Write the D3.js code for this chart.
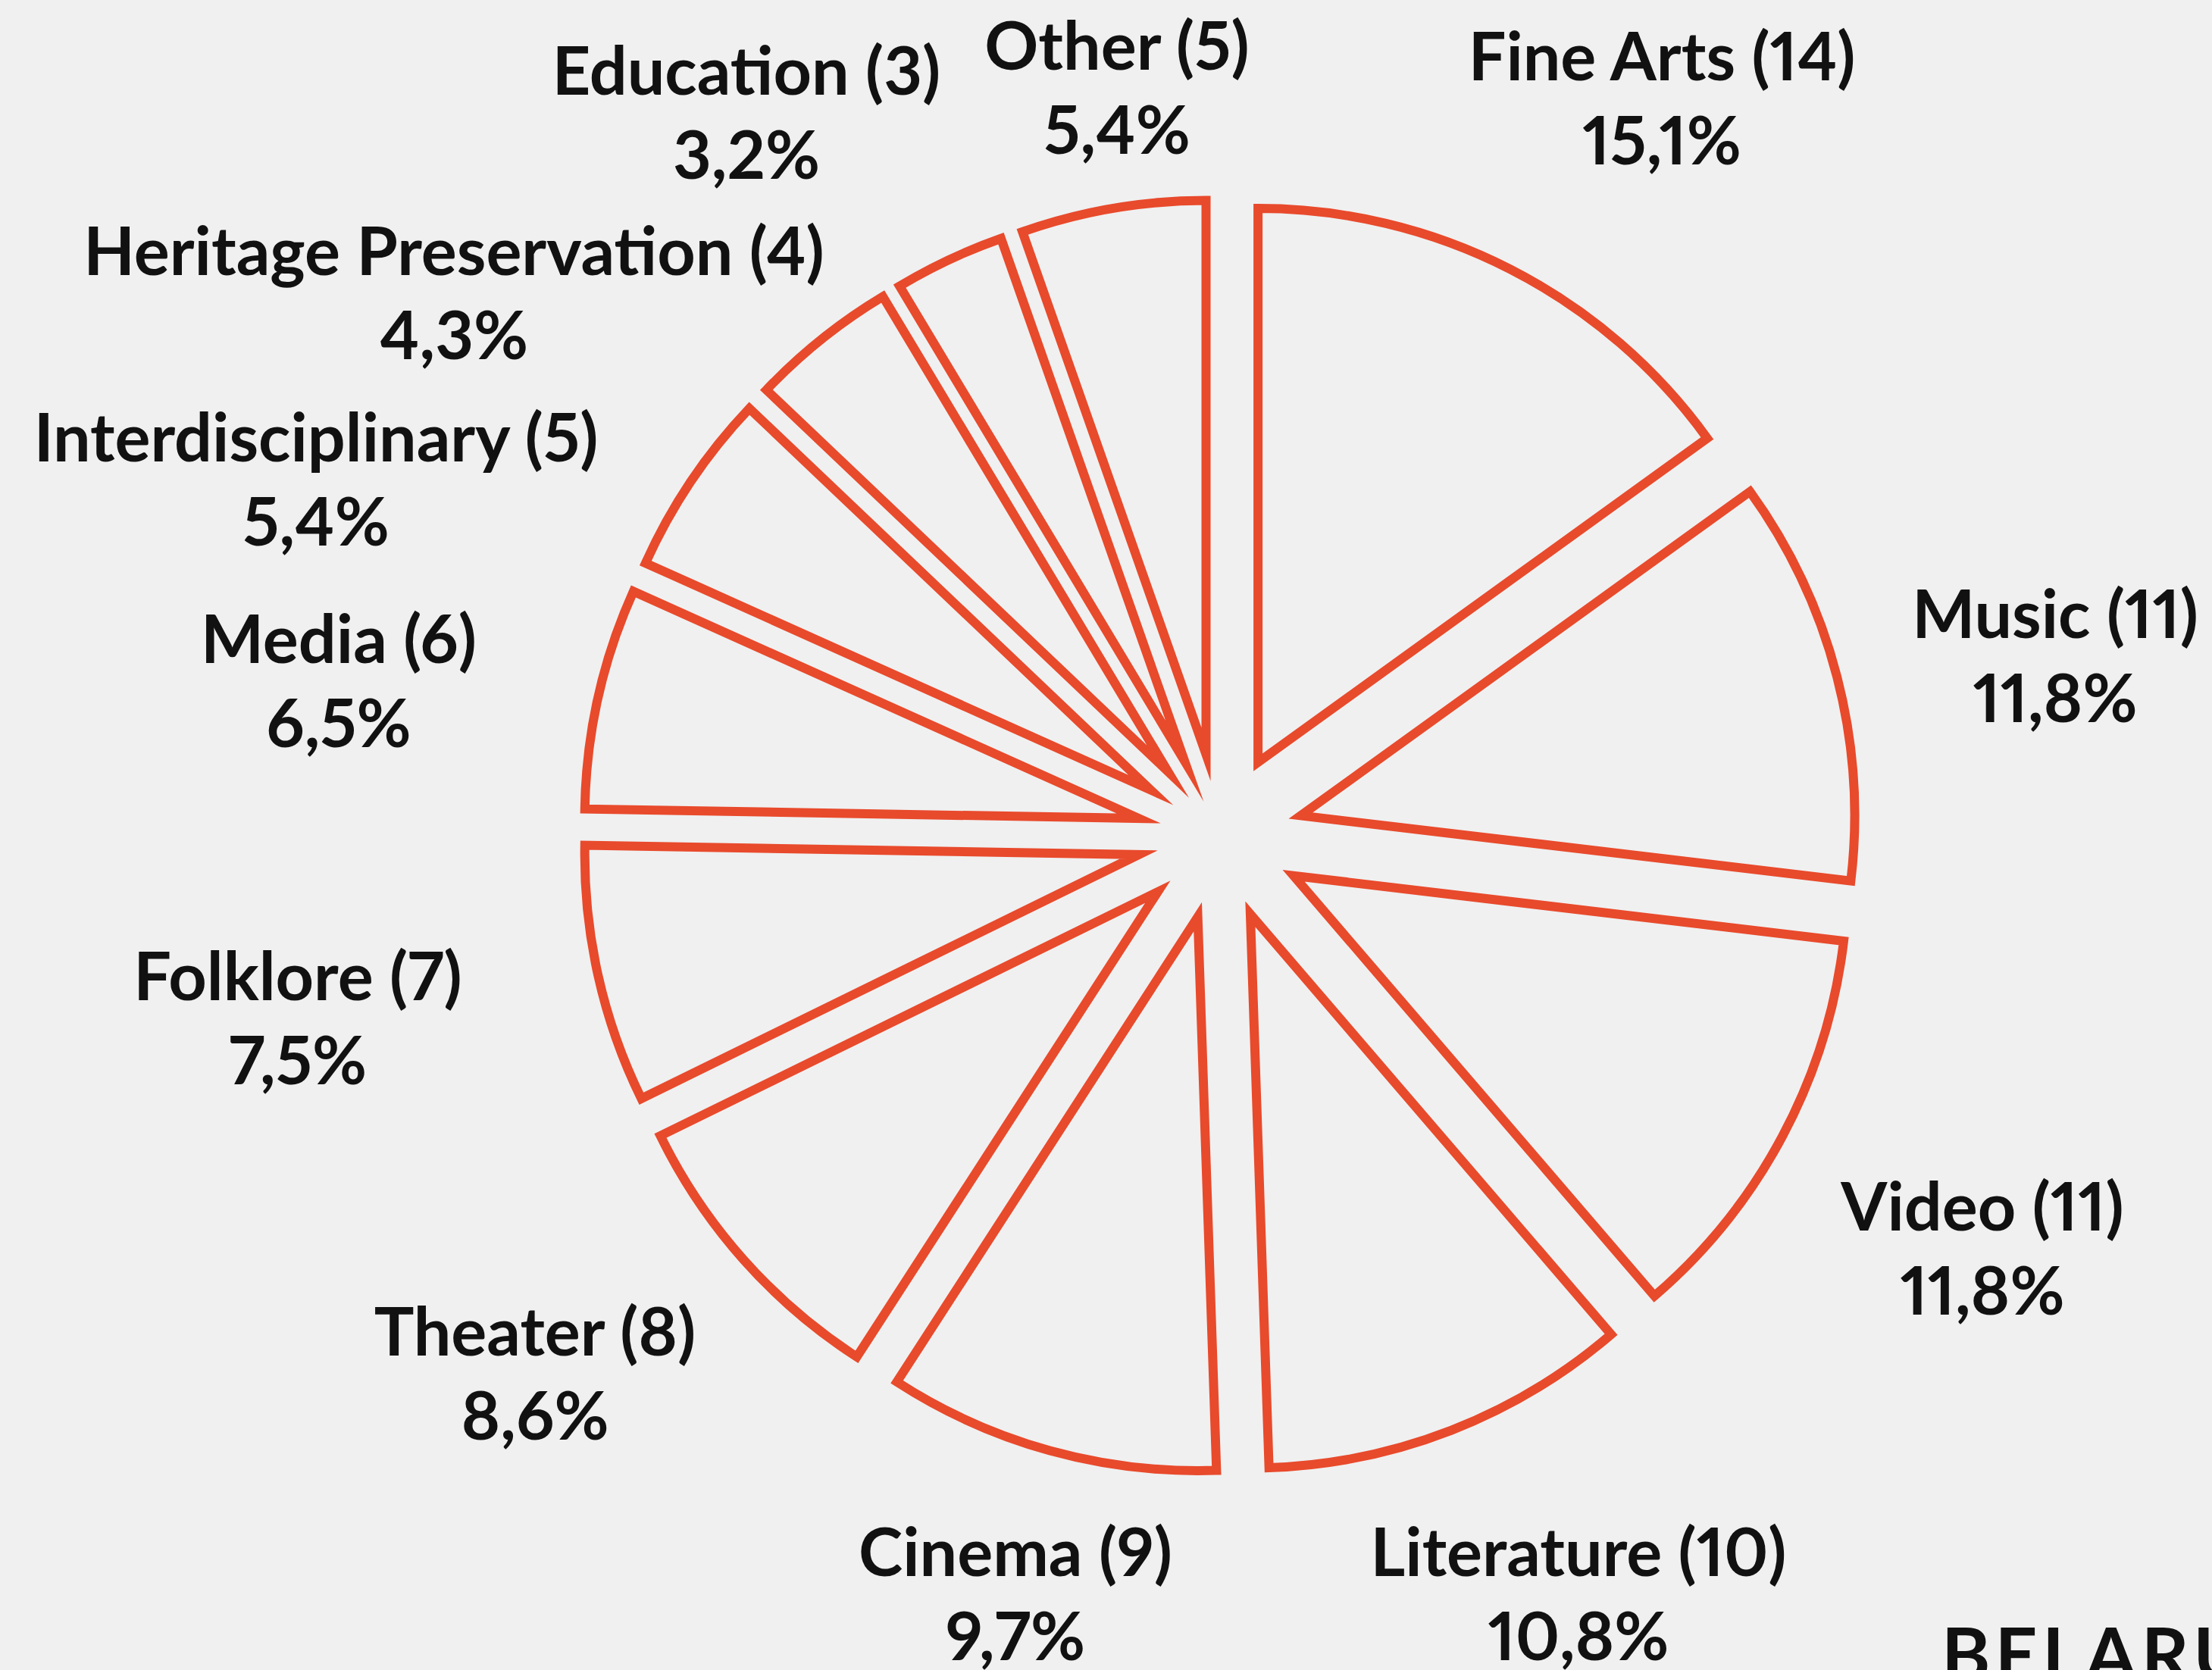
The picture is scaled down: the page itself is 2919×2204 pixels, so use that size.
<!DOCTYPE html>
<html>
<head>
<meta charset="utf-8">
<script src="https://cdn.jsdelivr.net/npm/d3@7"></script>
<style>
  body { margin: 0; background: #f0f0f0; }
  svg { display: block; }
  .label { font-family: Lato, "Open Sans", sans-serif; font-weight: 700; fill: #111;
           font-variant-numeric: proportional-nums; font-feature-settings: "pnum" 1; }
</style>
</head>
<body>
<div id="chart"></div>
<script>
// categories and counts, clockwise from 12 o'clock
var categories = ["Fine Arts", "Music", "Video", "Literature", "Cinema", "Theater",
  "Folklore", "Media", "Interdisciplinary", "Heritage Preservation", "Education", "Other"];
var counts = [14, 11, 11, 10, 9, 8, 7, 6, 5, 4, 3, 5];

var width = 2919, height = 2204;
var cx = 1610, cy = 1104,
    radius = 731,
    explode = 110;

// label centres, hand placed like the original layout
var labelPos = [
  [2193, 74], [2712, 810], [2616, 1592], [2083, 2048], [1340, 2048], [706, 1757],
  [393, 1288], [447, 843], [417, 577], [599, 331], [985, 93], [1474, 60]
];

var total = d3.sum(counts);
var pct = function(v) { return (v / total * 100).toFixed(1).replace(".", ",") + "%"; };

var data = categories.map(function(c, i) { return {name: c, value: counts[i]}; });

var svg = d3.select("#chart").append("svg")
    .attr("width", width)
    .attr("height", height);

svg.append("rect")
    .attr("width", width)
    .attr("height", height)
    .attr("fill", "#f0f0f0");

var pie = d3.pie()
    .sort(null)
    .value(function(d) { return d.value; });

var arc = d3.arc()
    .innerRadius(0)
    .outerRadius(radius);

var g = svg.append("g")
    .attr("transform", "translate(" + cx + "," + cy + ")");

g.selectAll(".slice")
  .data(pie(data))
  .enter().append("path")
    .attr("class", "slice")
    .attr("d", arc)
    .attr("transform", function(d) {
      var a = (d.startAngle + d.endAngle) / 2;
      return "translate(" + (Math.sin(a) * explode) + "," + (-Math.cos(a) * explode) + ")";
    })
    .attr("fill", "none")
    .attr("stroke", "#e84a2c")
    .attr("stroke-width", 12)
    .attr("stroke-linejoin", "miter")
    .attr("stroke-miterlimit", 30);

// labels: name (count) / share
var labels = svg.selectAll(".label")
  .data(data)
  .enter().append("text")
    .attr("class", "label")
    .attr("text-anchor", "middle")
    .style("font-size", "88px");

labels.append("tspan")
    .attr("x", function(d, i) { return labelPos[i][0]; })
    .attr("y", function(d, i) { return labelPos[i][1] + 32; })
    .text(function(d) { return d.name + " (" + d.value + ")"; });

labels.append("tspan")
    .attr("x", function(d, i) { return labelPos[i][0]; })
    .attr("y", function(d, i) { return labelPos[i][1] + 143; })
    .text(function(d) { return pct(d.value); });

// cut-off title in the corner
svg.append("text")
    .attr("class", "label")
    .attr("x", 2562)
    .attr("y", 2219)
    .style("font-size", "98px")
    .style("letter-spacing", "6px")
    .text("BELARUS");
</script>
</body>
</html>
